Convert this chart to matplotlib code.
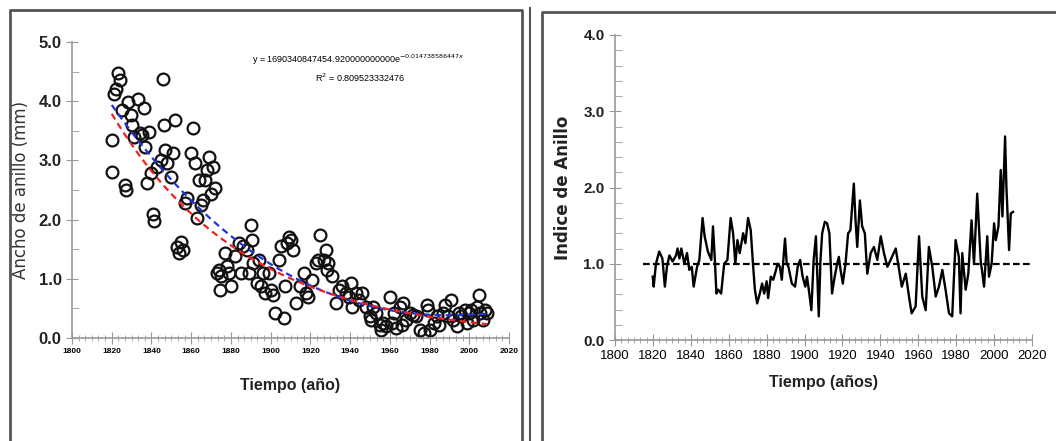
import matplotlib.pyplot as plt
import numpy as np
from matplotlib.lines import Line2D
from matplotlib.ticker import MultipleLocator, AutoMinorLocator

# anchos de anillo (mm) por anio
anios_ancho = [1820, 1820, 1821, 1822, 1823, 1824, 1825, 1826.6, 1827, 1828, 1829.6, 1830, 1831, 1833,
               1834, 1835, 1836, 1837, 1838, 1839, 1840, 1841, 1841.3, 1843, 1845, 1846, 1846.5, 1847,
               1848, 1850, 1851, 1852, 1853, 1854, 1855, 1856, 1857, 1858, 1860, 1861, 1862, 1863,
               1864, 1865, 1866, 1867, 1868, 1869, 1870, 1871, 1872, 1873, 1874, 1874.5, 1875, 1877,
               1878, 1879, 1880, 1882, 1884, 1885, 1886, 1888, 1889, 1890, 1890.5, 1891, 1893, 1894,
               1895, 1896, 1897, 1899, 1900, 1901, 1902, 1904, 1905, 1906.6, 1907, 1908, 1909, 1910,
               1911.5, 1913, 1915, 1916.7, 1918, 1919, 1921, 1922.7, 1924, 1925, 1927, 1928, 1928.6,
               1929, 1931, 1933, 1934.5, 1936, 1938, 1939.6, 1940.4, 1941, 1943, 1944.7, 1946, 1948,
               1950, 1950.6, 1951.4, 1953, 1955, 1955.7, 1956.5, 1958, 1960, 1961, 1962, 1963, 1965,
               1966, 1966.7, 1968, 1970, 1971.7, 1973, 1975, 1977, 1978.5, 1979, 1980, 1982, 1983.6,
               1985, 1987, 1988, 1989.5, 1991, 1992, 1993.7, 1994.6, 1996, 1998, 1999, 1999.7, 2001,
               2002, 2004, 2005, 2005.6, 2007, 2008, 2009]
ancho = [3.34, 2.81, 4.13, 4.21, 4.47, 4.35, 3.85, 2.58, 2.50, 3.99, 3.76, 3.60, 3.40, 4.04,
         3.46, 3.43, 3.88, 3.23, 2.61, 3.48, 2.78, 2.10, 1.97, 2.89, 3.00, 4.38, 3.60, 3.17,
         2.95, 2.72, 3.12, 3.68, 1.54, 1.43, 1.63, 1.49, 2.28, 2.36, 3.12, 3.54, 2.95, 2.02,
         2.67, 2.25, 2.33, 2.67, 2.84, 3.06, 2.44, 2.89, 2.53, 1.10, 1.15, 0.81, 1.04, 1.43,
         1.21, 1.10, 0.87, 1.38, 1.60, 1.10, 1.55, 1.49, 1.10, 1.91, 1.66, 1.26, 0.93, 1.32,
         0.87, 1.10, 0.76, 1.10, 0.81, 0.73, 0.42, 1.32, 1.55, 0.34, 0.87, 1.60, 1.71, 1.66,
         1.49, 0.59, 0.87, 1.10, 0.76, 0.70, 0.98, 1.26, 1.32, 1.74, 1.32, 1.49, 1.15,
         1.26, 1.04, 0.59, 0.81, 0.87, 0.76, 0.70, 0.93, 0.53, 0.76, 0.65, 0.76, 0.53,
         0.37, 0.31, 0.53, 0.42, 0.22, 0.14, 0.25, 0.20, 0.70, 0.25, 0.42, 0.17, 0.53,
         0.22, 0.59, 0.31, 0.42, 0.39, 0.37, 0.14, 0.08, 0.56, 0.48, 0.14, 0.25, 0.37,
         0.22, 0.42, 0.56, 0.37, 0.65, 0.31, 0.20, 0.42, 0.37, 0.48, 0.25, 0.42, 0.48,
         0.31, 0.53, 0.73, 0.42, 0.31, 0.48, 0.42]

# ajuste exponencial indicado en el grafico
coef_a = 1690340847454.92
coef_b = -0.014738586447

# indice de anillo (cronologia estandarizada)
anios_indice = [1819.9, 1820.4, 1821.6, 1823.3, 1825, 1826.3, 1827.4, 1828.7, 1830.4, 1832.2, 1833,
                1834, 1835, 1836.6, 1838, 1839.2, 1840.5, 1841.5, 1843.3, 1844.5, 1846.2, 1847.3,
                1849, 1850.8, 1851.7, 1852.6, 1853.5, 1854.4, 1856, 1857.6, 1859.3, 1861, 1862.3,
                1863.5, 1864.6, 1865.8, 1867.6, 1868.8, 1870.2, 1871.6, 1872.9, 1873.8, 1875,
                1876.4, 1877.6, 1878.7, 1880, 1880.8, 1882.2, 1883.5, 1884.4, 1885.8, 1887, 1888,
                1889.7, 1890.6, 1891.5, 1893.3, 1895, 1896.4, 1897.7, 1899, 1900.4, 1901.3, 1902.5,
                1903.6, 1904.8, 1906, 1907.5, 1908.4, 1909.3, 1910.7, 1911.9, 1913.1, 1914.5,
                1915.9, 1917.2, 1918.1, 1919, 1920.2, 1921.6, 1923, 1924.2, 1926, 1926.9, 1927.8,
                1929.2, 1930.4, 1931.8, 1933.1, 1934.9, 1936.6, 1938.4, 1940.2, 1941.9, 1943.7,
                1945.4, 1948.1, 1949.9, 1951.3, 1953.4, 1955.1, 1956.5, 1958.6, 1960.4, 1962.1,
                1963.9, 1965.6, 1967.4, 1969.2, 1970.9, 1972.7, 1974.4, 1976.2, 1977.9, 1979.7,
                1981.4, 1982.3, 1983.2, 1985, 1986.4, 1988.1, 1989.4, 1991.1, 1992.9, 1994.7,
                1996.4, 1997.3, 1998.7, 2000, 2000.9, 2002.3, 2003.5, 2004.4, 2005.8, 2006.5,
                2007.9, 2008.8, 2010]
indice = [0.83, 0.70, 1.00, 1.16, 1.07, 0.70, 0.96, 1.11, 1.03, 1.11, 1.20,
          1.07, 1.20, 1.00, 1.14, 0.92, 0.96, 0.70, 0.96, 1.05, 1.60, 1.36,
          1.16, 1.05, 1.49, 1.09, 0.61, 0.66, 0.61, 1.00, 1.05, 1.60, 1.40,
          1.00, 1.31, 1.14, 1.40, 1.27, 1.60, 1.44, 0.96, 0.66, 0.48,
          0.61, 0.74, 0.61, 0.77, 0.55, 0.83, 0.79, 0.87, 1.00, 0.96, 0.79,
          1.33, 1.00, 0.96, 0.74, 0.70, 0.96, 1.05, 0.83, 0.70, 0.83, 0.61,
          0.39, 1.05, 1.36, 0.31, 1.05, 1.40, 1.55, 1.53, 1.40, 0.61,
          0.83, 1.00, 1.09, 0.92, 0.74, 1.00, 1.40, 1.44, 2.05, 1.57, 1.22,
          1.83, 1.49, 1.40, 0.87, 1.14, 1.22, 1.05, 1.36, 1.14, 0.96,
          1.05, 1.20, 0.92, 0.70, 0.87, 0.57, 0.35, 0.44, 1.36, 0.57,
          0.39, 1.22, 0.96, 0.57, 0.70, 0.92, 0.66, 0.35, 0.31, 1.31,
          1.09, 0.35, 1.14, 0.66, 0.87, 1.57, 1.00, 1.92, 1.05, 0.70,
          1.36, 0.83, 1.00, 1.53, 1.31, 1.49, 2.23, 1.62, 2.67, 2.01,
          1.18, 1.66, 1.68]

ticks_x = [1800, 1820, 1840, 1860, 1880, 1900, 1920, 1940, 1960, 1980, 2000, 2020]

narrow = ["Liberation Sans Narrow", "Liberation Sans", "DejaVu Sans"]

fig = plt.figure(figsize=(10.56, 4.41), dpi=100)
W, H = 1056, 441


def fx(px):
    return px / W


def fy(py):
    return 1 - py / H


# marcos de los paneles
for x0, x1, y0 in [(10, 522, 10), (542, 1060, 12)]:
    fig.add_artist(Line2D([fx(x0), fx(x1), fx(x1), fx(x0), fx(x0)],
                          [fy(445), fy(445), fy(y0), fy(y0), fy(445)],
                          color="#555555", lw=2.0))
fig.add_artist(Line2D([fx(530), fx(530)], [fy(445), fy(8)], color="#555555", lw=1.5))


def estilo_ejes(ax):
    for lado in ["top", "right"]:
        ax.spines[lado].set_visible(False)
    for lado in ["left", "bottom"]:
        ax.spines[lado].set_color("#999999")
        ax.spines[lado].set_linewidth(1.2)
    ax.xaxis.set_minor_locator(AutoMinorLocator(6))
    ax.tick_params(axis="x", which="both", direction="inout", color="#999999")
    ax.tick_params(axis="x", which="major", length=8)
    ax.tick_params(axis="x", which="minor", length=5)
    ax.tick_params(axis="y", which="both", direction="in", color="#999999", length=5)
    ax.tick_params(axis="y", which="major", direction="inout", length=8)


# panel izquierdo: ancho de anillo
ax1 = fig.add_axes([fx(72), fy(338), fx(509) - fx(72), fy(42) - fy(338)])
ax1.plot(anios_ancho, ancho, "o", ms=8.5, mfc="none", mec="#111111", mew=1.6)
xs = np.linspace(1820, 2009, 200)
poly = np.polyfit(anios_ancho, ancho, 3)
ax1.plot(xs, np.polyval(poly, xs), ls=(0, (3, 2)), color="#2233dd", lw=1.6)
ax1.plot(xs, coef_a * np.exp(coef_b * xs), ls=(0, (3, 2)), color="#ee2222", lw=1.6)
ax1.set_xlim(1800, 2020)
ax1.set_ylim(0, 5)
ax1.set_xticks(ticks_x)
ax1.set_xticklabels([str(t) for t in ticks_x], family=narrow, fontsize=6, fontweight="bold")
ax1.yaxis.set_major_locator(MultipleLocator(1))
ax1.yaxis.set_minor_locator(MultipleLocator(0.5))
ax1.set_yticklabels([f"{v:.1f}" for v in ax1.get_yticks()], family=narrow, fontsize=12,
                    fontweight="bold", color="#222222")
estilo_ejes(ax1)
ax1.set_xlabel("Tiempo (año)", family=narrow, fontsize=11.5, fontweight="bold", labelpad=16,
               color="#222222")
ax1.set_ylabel("Ancho de anillo (mm)", family="DejaVu Sans", fontsize=12, color="#333333",
               labelpad=6)
ax1.text(0.655, 0.94, r"y = 1690340847454.920000000000e$^{-0.014738586447x}$",
         transform=ax1.transAxes, ha="center", va="center", family=narrow, fontsize=6.5)
ax1.text(0.66, 0.88, r"R$^2$ = 0.809523332476", transform=ax1.transAxes, ha="center",
         va="center", family=narrow, fontsize=6.5)

# panel derecho: indice de anillo
ax2 = fig.add_axes([fx(615), fy(340), fx(1032) - fx(615), fy(35) - fy(340)])
ax2.plot(anios_indice, indice, color="black", lw=1.7)
ax2.plot([1815, 2020], [1.0, 1.0], ls=(0, (3, 1.5)), color="black", lw=1.6)
ax2.set_xlim(1800, 2020)
ax2.set_ylim(0, 4)
ax2.set_xticks(ticks_x)
ax2.set_xticklabels([str(t) for t in ticks_x], family=narrow, fontsize=9.5)
ax2.yaxis.set_major_locator(MultipleLocator(1))
ax2.yaxis.set_minor_locator(MultipleLocator(0.2))
ax2.set_yticklabels([f"{v:.1f}" for v in ax2.get_yticks()], family=narrow, fontsize=11,
                    fontweight="bold", color="#222222")
estilo_ejes(ax2)
ax2.set_xlabel("Tiempo (años)", family=narrow, fontsize=11.5, fontweight="bold", labelpad=9,
               color="#222222")
ax2.set_ylabel("Indice de Anillo", family="DejaVu Sans", fontsize=12, fontweight="bold",
               labelpad=8, color="#222222")

fig.savefig("out.png", dpi=100)
